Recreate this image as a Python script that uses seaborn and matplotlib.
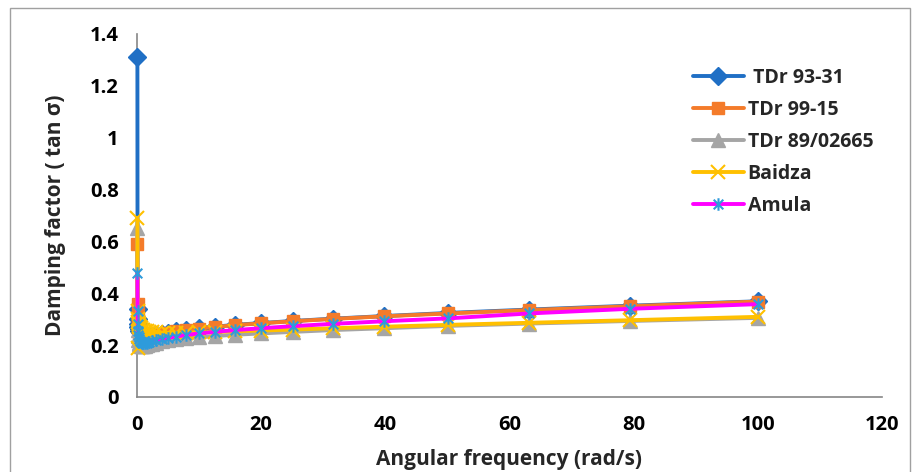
import matplotlib
matplotlib.use("Agg")
import matplotlib.pyplot as plt
from matplotlib.patches import Rectangle
from matplotlib.path import Path
import seaborn as sns

# ----------------------------
# Data
# ----------------------------
omega = [0.1, 0.126, 0.158, 0.2, 0.251, 0.316, 0.398, 0.501, 0.631, 0.794,
         1, 1.26, 1.58, 2, 2.51, 3.16, 3.98, 5.01, 6.31, 7.94,
         10, 12.6, 15.8, 20, 25.1, 31.6, 39.8, 50.1, 63.1, 79.4, 100]

tdr_93_31 = [1.31, 0.34, 0.30, 0.28, 0.27, 0.262, 0.255, 0.25, 0.245, 0.238,
             0.233, 0.232, 0.232, 0.233, 0.236, 0.24, 0.244, 0.248, 0.253, 0.259,
             0.265, 0.271, 0.278, 0.285, 0.293, 0.302, 0.312, 0.324, 0.337, 0.352, 0.369]

tdr_99_15 = [0.59, 0.36, 0.31, 0.28, 0.265, 0.255, 0.245, 0.24, 0.235, 0.232,
             0.23, 0.23, 0.231, 0.233, 0.236, 0.24, 0.244, 0.248, 0.253, 0.258,
             0.264, 0.27, 0.277, 0.284, 0.292, 0.301, 0.311, 0.322, 0.335, 0.35, 0.368]

tdr_89_02665 = [0.65, 0.30, 0.26, 0.235, 0.22, 0.21, 0.205, 0.2, 0.198, 0.197,
                0.197, 0.198, 0.2, 0.203, 0.206, 0.21, 0.214, 0.218, 0.222, 0.226,
                0.23, 0.235, 0.24, 0.245, 0.251, 0.258, 0.265, 0.274, 0.283, 0.293, 0.305]

baidza = [0.69, 0.19, 0.33, 0.30, 0.29, 0.28, 0.275, 0.27, 0.265, 0.26,
          0.257, 0.255, 0.253, 0.252, 0.25, 0.249, 0.248, 0.247, 0.247, 0.248,
          0.249, 0.251, 0.253, 0.256, 0.26, 0.265, 0.271, 0.278, 0.286, 0.296, 0.309]

amula = [0.48, 0.33, 0.28, 0.255, 0.24, 0.23, 0.222, 0.216, 0.212, 0.21,
         0.209, 0.209, 0.21, 0.212, 0.215, 0.219, 0.223, 0.228, 0.233, 0.239,
         0.245, 0.251, 0.258, 0.265, 0.273, 0.282, 0.292, 0.303, 0.322, 0.34, 0.358]

labels = [" TDr 93-31", "TDr 99-15", "TDr 89/02665", "Baidza", "Amula"]

# Excel style asterisk marker (x plus vertical bar)
star = Path([(-1, -1), (1, 1), (-1, 1), (1, -1), (0, -1.3), (0, 1.3)],
            [Path.MOVETO, Path.LINETO, Path.MOVETO, Path.LINETO, Path.MOVETO, Path.LINETO])

# ----------------------------
# Style
# ----------------------------
sns.set_style("white")
plt.rcParams['font.family'] = ['Open Sans', 'DejaVu Sans']
plt.rcParams['font.weight'] = 'bold'

fig = plt.figure(figsize=(9.18, 4.72), dpi=100)
ax = fig.add_axes([0.149, 0.159, 0.812, 0.769])

series = [
    (tdr_93_31, "#1F6FC5", "D", 9, "#1F6FC5", 1),
    (tdr_99_15, "#F47B2A", "s", 9, "#F47B2A", 1),
    (tdr_89_02665, "#A5A5A5", "^", 10, "#A5A5A5", 1),
    (baidza, "#FFC000", "x", 10, "#FFC000", 1.5),
    (amula, "#FF00FF", star, 9, "#2E9BDB", 1.5),
]

for (vals, col, mk, ms, mec, mew), lab in zip(series, labels):
    sns.lineplot(x=omega, y=vals, ax=ax, color=col, marker=mk, markersize=ms,
                 markerfacecolor=mec, markeredgecolor=mec, markeredgewidth=mew,
                 linewidth=2.8, label=lab, sort=False, estimator=None, clip_on=False)

ax.set_xlim(0, 120)
ax.set_ylim(0, 1.4)
ax.set_xticks(range(0, 121, 20))
ax.set_yticks([0, 0.2, 0.4, 0.6, 0.8, 1, 1.2, 1.4])
ax.set_yticklabels(["0", "0.2", "0.4", "0.6", "0.8", "1", "1.2", "1.4"])

for s in ["top", "right"]:
    ax.spines[s].set_visible(False)
for s in ["left", "bottom"]:
    ax.spines[s].set_color("#868686")
    ax.spines[s].set_linewidth(1.2)
    ax.spines[s].set_zorder(0)

ax.tick_params(axis="both", direction="out", length=6, width=1, color="#868686",
               labelsize=14.5, labelcolor="black", pad=7)
for t in ax.get_xticklabels() + ax.get_yticklabels():
    t.set_fontweight("bold")

ax.set_xlabel("Angular frequency (rad/s)", fontsize=15, fontweight="bold", labelpad=10)
ax.set_ylabel("Damping factor ( tan σ)", fontsize=15, fontweight="bold", labelpad=17)

ax.legend(loc="upper left", bbox_to_anchor=(0.723, 0.955), frameon=False,
          handlelength=2.6, handletextpad=0.2, labelspacing=0.62,
          prop={"weight": "bold", "size": 14})

# outer chart border
fig.patches.append(Rectangle((0.011, -0.01), 0.980, 0.993, transform=fig.transFigure,
                             fill=False, edgecolor="#A0A0A0", linewidth=1))

fig.savefig("out.png", dpi=100)
